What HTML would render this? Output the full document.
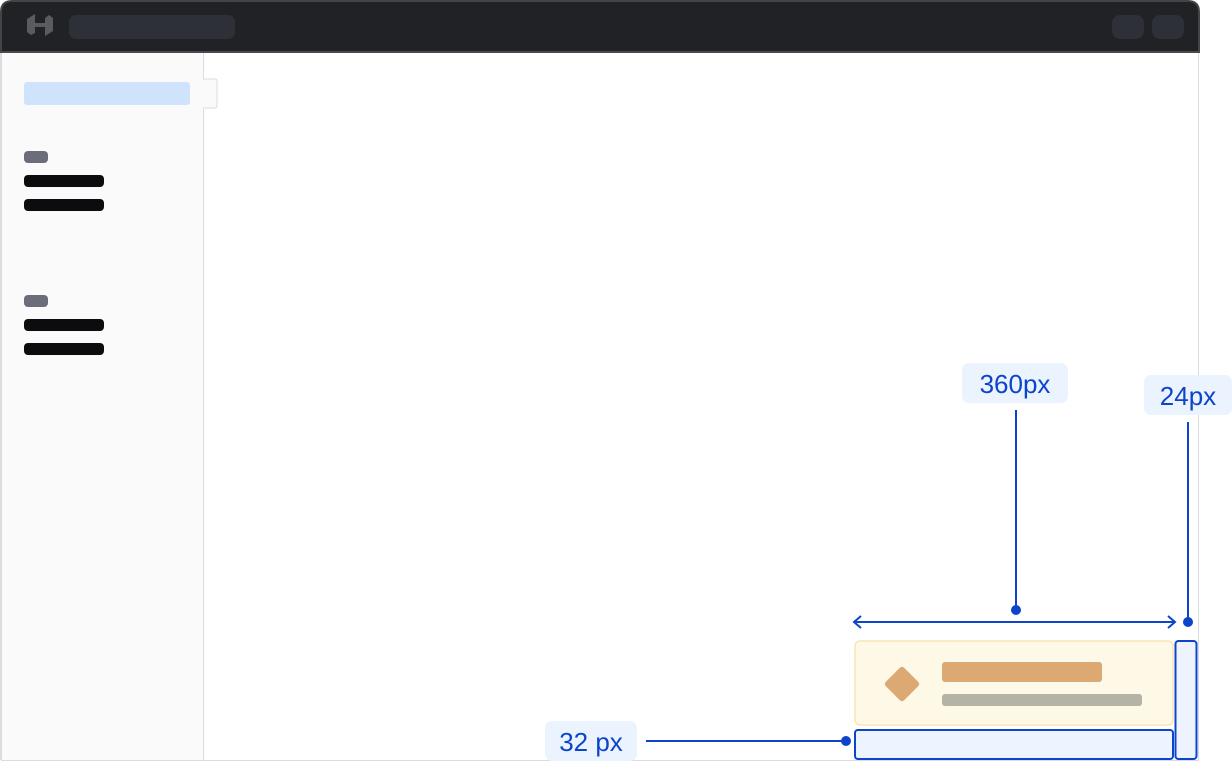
<!DOCTYPE html>
<html><head><style>
html,body{margin:0;padding:0;background:#fff;}
body{width:1232px;height:762px;position:relative;overflow:hidden;font-family:"Liberation Sans",sans-serif;}
</style></head><body>
<svg width="1232" height="762" viewBox="0 0 1232 762" xmlns="http://www.w3.org/2000/svg" style="position:absolute;left:0;top:0">
<path d="M1,52 V12 Q1,1 12,1 H1188 Q1199,1 1199,12 V52 Z" fill="#212226" stroke="#444" stroke-width="2"/>
<rect x="1" y="51" width="1198" height="2" fill="#4a4a4c"/>
<rect x="1" y="53" width="202" height="707" fill="#fafafa"/>
<line x1="203.5" y1="53" x2="203.5" y2="760" stroke="#dcdce0"/>
<line x1="1" y1="53" x2="1" y2="760" stroke="#dcdce0" stroke-width="2"/>
<line x1="1198.5" y1="53" x2="1198.5" y2="760" stroke="#dcdce0"/>
<line x1="1" y1="760.5" x2="1199" y2="760.5" stroke="#dcdce0"/>
<g fill="#5a5b60">
<path d="M27,19 L35,14 V33 L31,35 L27,32 Z"/>
<path d="M45,18 L49,15 L53,18 V31 L45,36 Z"/>
<rect x="35" y="23" width="10" height="4"/>
</g>
<rect x="69" y="15" width="166" height="24" rx="7" fill="#2e3038"/>
<rect x="1112" y="15" width="32" height="24" rx="8" fill="#2e3038"/>
<rect x="1152" y="15" width="32" height="24" rx="8" fill="#2e3038"/>
<path d="M203,79 H215 Q217,79 217,81 V106 Q217,108 215,108 H203" fill="#fafafa" stroke="#dcdce0"/>
<rect x="24" y="82" width="166" height="23" rx="3" fill="#cfe3fd"/>
<rect x="24" y="151" width="24" height="12" rx="4" fill="#6b6e7a"/>
<rect x="24" y="175" width="80" height="12" rx="4" fill="#0c0c0e"/>
<rect x="24" y="199" width="80" height="12" rx="4" fill="#0c0c0e"/>
<rect x="24" y="295" width="24" height="12" rx="4" fill="#6b6e7a"/>
<rect x="24" y="319" width="80" height="12" rx="4" fill="#0c0c0e"/>
<rect x="24" y="343" width="80" height="12" rx="4" fill="#0c0c0e"/>
<rect x="855" y="641" width="318" height="84" rx="5" fill="#fef8e6" stroke="#f8e5b4" stroke-width="1.5"/>
<rect x="889" y="671" width="26" height="26" rx="3" fill="#dda973" transform="rotate(45 902 684)"/>
<rect x="942" y="662" width="160" height="20" rx="3" fill="#dda973"/>
<rect x="942" y="694" width="200" height="12" rx="3" fill="#b5b3a5"/>
<rect x="855" y="730" width="318" height="29" rx="3" fill="#edf4ff" stroke="#0d44cc" stroke-width="2"/>
<rect x="1175.5" y="641" width="21" height="118" rx="3" fill="#edf4ff" stroke="#0d44cc" stroke-width="2"/>
<g stroke="#0d44cc" stroke-width="2" fill="none">
<line x1="854" y1="622" x2="1175" y2="622"/>
<polyline points="861,616 854,622 861,628"/>
<polyline points="1168,616 1175,622 1168,628"/>
<line x1="1016" y1="410" x2="1016" y2="610"/>
<line x1="1188" y1="422" x2="1188" y2="622"/>
<line x1="646" y1="741" x2="846" y2="741"/>
</g>
<g fill="#0d44cc">
<circle cx="1016" cy="610" r="5"/>
<circle cx="1188" cy="622" r="5"/>
<circle cx="846" cy="741" r="5"/>
</g>
<g font-family="Liberation Sans, sans-serif" font-size="26" fill="#0d44cc" text-anchor="middle">
<rect x="962" y="363" width="106" height="40" rx="7" fill="#ebf3fe"/>
<text x="1015" y="393">360px</text>
<rect x="1144" y="375" width="88" height="40" rx="7" fill="#ebf3fe"/>
<text x="1188" y="405">24px</text>
<rect x="545" y="721" width="92" height="40" rx="7" fill="#ebf3fe"/>
<text x="591" y="751">32 px</text>
</g>
</svg>
</body></html>
